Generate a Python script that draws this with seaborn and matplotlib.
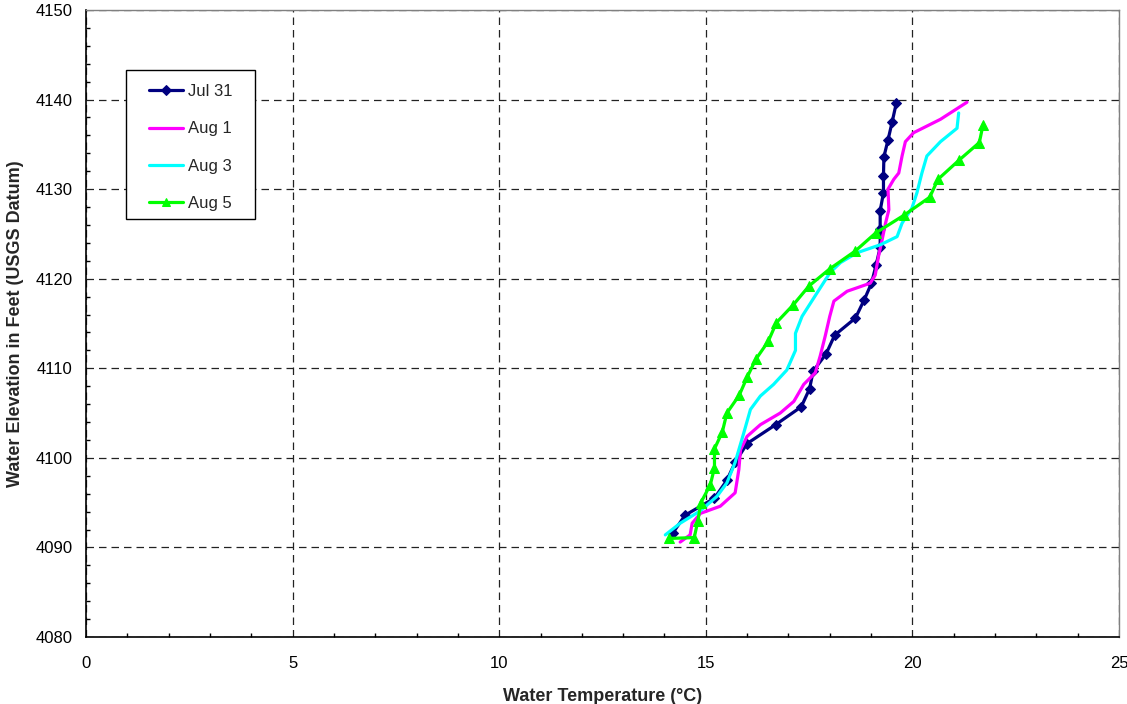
import numpy as np
import pandas as pd
import matplotlib
matplotlib.use("Agg")
import matplotlib.pyplot as plt
from matplotlib.ticker import MultipleLocator
from matplotlib.patches import Rectangle
import seaborn as sns

# Temperature profiles (degC) against water surface elevation (ft, USGS datum)
jul31_temp = [14.20, 14.50, 15.21, 15.51, 15.71, 16.00, 16.69, 17.31, 17.51, 17.60,
              17.91, 18.12, 18.62, 18.83, 19.01, 19.12, 19.22, 19.22, 19.22, 19.30,
              19.30, 19.31, 19.41, 19.51, 19.61]
jul31_elev = [4091.6, 4093.6, 4095.5, 4097.5, 4099.5, 4101.6, 4103.7, 4105.7, 4107.7, 4109.7,
              4111.6, 4113.7, 4115.6, 4117.6, 4119.5, 4121.5, 4123.5, 4125.5, 4127.6, 4129.6,
              4131.5, 4133.6, 4135.5, 4137.5, 4139.6]

aug1_temp = [14.38, 14.62, 14.67, 14.87, 15.35, 15.71, 15.80, 15.84, 16.00, 16.32,
             16.80, 17.13, 17.37, 17.65, 17.77, 17.89, 18.00, 18.10, 18.42, 18.98,
             19.10, 19.18, 19.27, 19.35, 19.43, 19.41, 19.55, 19.67, 19.75, 19.83,
             20.03, 20.68, 21.32]
aug1_elev = [4090.6, 4091.4, 4092.7, 4093.8, 4094.6, 4096.1, 4098.7, 4100.9, 4102.4, 4103.7,
             4105.0, 4106.3, 4108.2, 4109.5, 4111.4, 4113.6, 4115.8, 4117.5, 4118.6, 4119.5,
             4120.4, 4122.5, 4124.4, 4126.2, 4127.7, 4130.0, 4131.1, 4131.8, 4133.7, 4135.3,
             4136.3, 4137.8, 4139.7]

aug3_temp = [14.02, 14.38, 14.87, 15.27, 15.51, 15.71, 15.92, 16.08, 16.32, 16.64,
             16.96, 17.17, 17.17, 17.33, 17.69, 18.01, 18.26, 18.66, 19.23, 19.63,
             19.75, 19.99, 20.11, 20.23, 20.35, 20.68, 21.08, 21.12]
aug3_elev = [4091.4, 4092.7, 4094.1, 4095.7, 4097.2, 4099.5, 4102.8, 4105.4, 4106.9, 4108.2,
             4109.8, 4112.0, 4113.9, 4115.8, 4118.4, 4120.7, 4121.8, 4122.9, 4123.8, 4124.7,
             4126.2, 4127.9, 4129.6, 4131.8, 4133.7, 4135.3, 4136.8, 4138.5]

aug5_temp = [14.10, 14.72, 14.81, 14.88, 15.11, 15.21, 15.21, 15.40, 15.51, 15.81,
             16.00, 16.21, 16.51, 16.71, 17.12, 17.50, 18.00, 18.62, 19.11, 19.80,
             20.42, 20.62, 21.12, 21.62, 21.71]
aug5_elev = [4091.0, 4091.1, 4093.0, 4095.0, 4097.0, 4098.9, 4101.0, 4102.9, 4105.0, 4107.0,
             4109.0, 4111.0, 4113.0, 4115.1, 4117.1, 4119.2, 4121.1, 4123.1, 4125.1, 4127.1,
             4129.1, 4131.1, 4133.2, 4135.2, 4137.2]

series_names = ["Jul 31", "Aug 1", "Aug 3", "Aug 5"]
series_temp = [jul31_temp, aug1_temp, aug3_temp, aug5_temp]
series_elev = [jul31_elev, aug1_elev, aug3_elev, aug5_elev]
series_color = ["#000080", "#FF00FF", "#00FFFF", "#00FF00"]
series_marker = ["D", None, None, "^"]
series_msize = [5.5, 0, 0, 7]

sns.set_style("white")
plt.rcParams["font.family"] = ["Liberation Sans", "DejaVu Sans"]

W, H = 1127, 704
fig = plt.figure(figsize=(W / 100, H / 100), dpi=100)
ax = fig.add_axes([86 / W, 1 - 637 / H, (1119 - 86) / W, (637 - 10) / H])

for name, t, e, c, m, ms in zip(series_names, series_temp, series_elev,
                                 series_color, series_marker, series_msize):
    df = pd.DataFrame({"temp": t, "elev": e})
    sns.lineplot(data=df, x="temp", y="elev", ax=ax, sort=False, estimator=None,
                 color=c, linewidth=2.3, marker=m, markersize=ms,
                 markeredgecolor=c, markerfacecolor=c, label=name, zorder=3)

ax.set_xlim(0, 25)
ax.set_ylim(4080, 4150)
ax.xaxis.set_major_locator(MultipleLocator(5))
ax.xaxis.set_minor_locator(MultipleLocator(1))
ax.yaxis.set_major_locator(MultipleLocator(10))
ax.yaxis.set_minor_locator(MultipleLocator(2))

ax.tick_params(axis="both", which="major", direction="out", length=4.3, width=1,
               color="black", labelsize=12, labelcolor="black", pad=5.5)
ax.tick_params(axis="x", which="major", pad=9.5)
ax.tick_params(axis="both", which="minor", direction="in", length=3, width=1,
               color="black", bottom=True, left=True)
ax.tick_params(axis="both", which="both", top=False, right=False)

ax.grid(True, which="major", color="#222222", linestyle=(0, (6, 4)), linewidth=0.9)
ax.set_axisbelow(True)

for side in ["left", "bottom"]:
    ax.spines[side].set_color("black")
    ax.spines[side].set_linewidth(1.2)
for side in ["top", "right"]:
    ax.spines[side].set_color("#808080")
    ax.spines[side].set_linewidth(1.0)

ax.set_xlabel("Water Temperature (°C)", fontsize=13, fontweight="bold", labelpad=12)
ax.set_ylabel("Water Elevation in Feet (USGS Datum)", fontsize=13, fontweight="bold",
              labelpad=8)

# legend box drawn as its own frame, entries placed inside it
box = Rectangle((126 / W, 1 - 219 / H), (255 - 126) / W, (219 - 70) / H,
                transform=fig.transFigure, facecolor="white", edgecolor="black",
                linewidth=1.0, zorder=4, clip_on=False)
ax.add_patch(box)

leg = ax.legend(loc="upper left", bbox_to_anchor=(149 / W, 1 - 84 / H),
                bbox_transform=fig.transFigure, fontsize=12, frameon=False,
                labelspacing=1.34, handlelength=2.05, handletextpad=0.3,
                borderpad=0, borderaxespad=0)
leg.set_zorder(5)
for h in leg.legend_handles:
    if h.get_marker() not in (None, "None", ""):
        h.set_markersize(5.5)

fig.savefig("out.png", dpi=100, facecolor="white")
